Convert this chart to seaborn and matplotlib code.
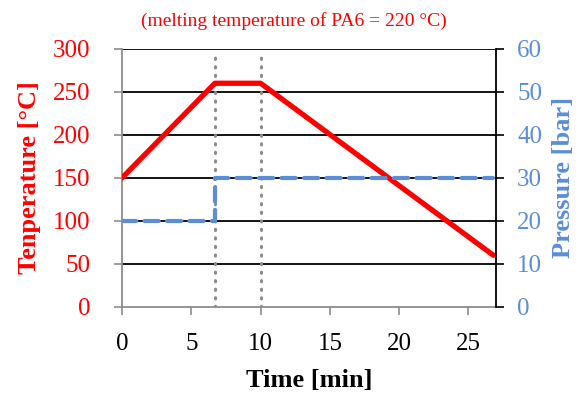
import pandas as pd
import seaborn as sns
import matplotlib
matplotlib.use("Agg")
import matplotlib.pyplot as plt

# data
temp_time = [0, 6.7, 10, 26.8]
temp_val = [150, 260, 260, 60]
pres_time = [0, 6.7, 6.7, 26.8]
pres_val = [20, 20, 30, 30]
marker_times = [6.7, 10]
x_ticks = [0, 5, 10, 15, 20, 25]
t_ticks = [0, 50, 100, 150, 200, 250, 300]
p_ticks = [0, 10, 20, 30, 40, 50, 60]

red = "#FF0000"
blue = "#5B8ED6"
gray = "#8C8C8C"

sns.set_style("white")
plt.rcParams['font.family'] = ['Liberation Serif', 'DejaVu Serif']

df_t = pd.DataFrame({"time": temp_time, "temp": temp_val})
df_p = pd.DataFrame({"time": pres_time, "pres": pres_val})

fig = plt.figure(figsize=(5.81, 3.94), dpi=100)
ax = fig.add_axes([0.21, 0.221, 0.644, 0.655])

for y in t_ticks[1:]:
    ax.axhline(y, color="black", lw=1.3, zorder=1)
for x in marker_times:
    ax.plot([x, x], [0, 298], color=gray, lw=2.2, ls=(0, (0.4, 2.4)),
            dash_capstyle="round", zorder=2)

sns.lineplot(data=df_t, x="time", y="temp", ax=ax, color=red, lw=3.8,
             sort=False, estimator=None, zorder=4)
ax.set_xlim(0, 27)
ax.set_ylim(0, 300)
ax.set_xticks(x_ticks)
ax.set_yticks(t_ticks)
ax.set_xlabel("Time [min]", fontsize=19, fontweight="bold", color="black", labelpad=10)
ax.set_ylabel("Tenperature [°C]", fontsize=19, fontweight="bold", color=red, labelpad=8)
ax.tick_params(axis="x", labelsize=18, colors="black", length=6, width=1.2, color=gray, direction="out", pad=13)
ax.tick_params(axis="y", labelsize=18, labelcolor=red, length=6, width=1.2, color=gray, direction="out", pad=17)
ax.tick_params(bottom=True, left=True)
for s in ["left", "bottom"]:
    ax.spines[s].set_color(gray)
    ax.spines[s].set_linewidth(1.3)
ax.spines["top"].set_visible(False)
ax.spines["right"].set_visible(False)

ax2 = ax.twinx()
sns.lineplot(data=df_p, x="time", y="pres", ax=ax2, color=blue, lw=3,
             sort=False, estimator=None, zorder=3)
ax2.lines[-1].set_dashes([3.4, 2.0])
ax2.lines[-1].set_dash_capstyle("round")
ax2.set_ylim(0, 60)
ax2.set_yticks(p_ticks)
ax2.set_ylabel("Pressure [bar]", fontsize=19, fontweight="bold", color=blue, labelpad=7)
ax2.tick_params(axis="y", right=True, labelsize=18, labelcolor=blue, length=6, width=1.2, color="black", direction="out", pad=9)
for s in ["left", "bottom", "top"]:
    ax2.spines[s].set_visible(False)
ax2.spines["right"].set_color("black")
ax2.spines["right"].set_linewidth(1.3)

fig.text(0.505, 0.947, "(melting temperature of PA6 = 220 °C)", ha="center", va="center",
         fontsize=14, color=red)

fig.savefig("out.png", dpi=100)
